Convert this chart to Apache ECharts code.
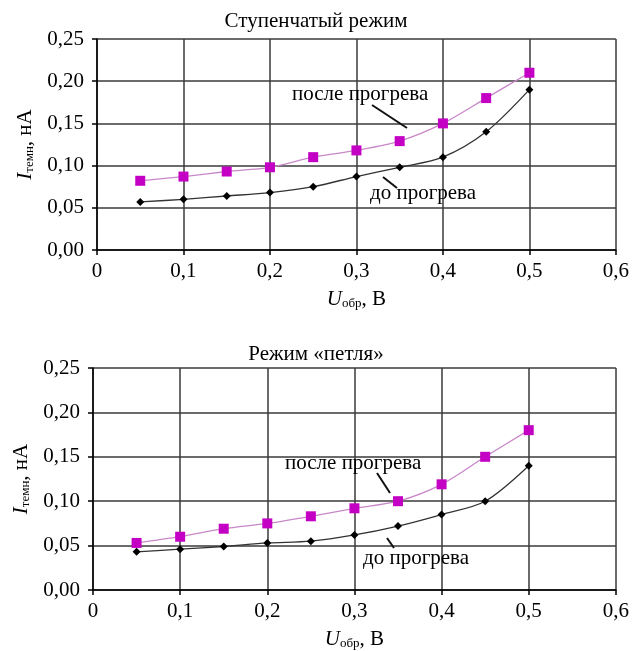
<!DOCTYPE html>
<html>
<head>
<meta charset="utf-8">
<script src="https://cdn.jsdelivr.net/npm/echarts@6/dist/echarts.min.js"></script>
<style>
  html, body { margin: 0; padding: 0; background: #fff; }
  #chart { width: 632px; height: 651px; }
</style>
</head>
<body>
<div id="chart"></div>
<script>
// данные
const voltage = [0.05, 0.1, 0.15, 0.2, 0.25, 0.3, 0.35, 0.4, 0.45, 0.5]
const stepBefore = [0.057, 0.060, 0.064, 0.068, 0.075, 0.087, 0.098, 0.110, 0.140, 0.190]
const stepAfter = [0.082, 0.087, 0.093, 0.098, 0.110, 0.118, 0.129, 0.150, 0.180, 0.210]
const loopBefore = [0.043, 0.046, 0.049, 0.053, 0.055, 0.062, 0.072, 0.085, 0.100, 0.140]
const loopAfter = [0.053, 0.060, 0.069, 0.075, 0.083, 0.092, 0.100, 0.119, 0.150, 0.180]
const titles = ['Ступенчатый режим', 'Режим «петля»']
const labelAfter = 'после прогрева'
const labelBefore = 'до прогрева'

const font = '"Liberation Serif", "DejaVu Serif", serif'
const gridColor = '#3a3a3a'
const magenta = '#c400c4'
const magentaLine = '#c888c8'

const pairs = (ys) => voltage.map((x, i) => [x, ys[i]])

const nameRich = {
  i: { fontFamily: font, fontStyle: 'italic', fontSize: 21, color: '#000' },
  sub: { fontFamily: font, fontSize: 13, color: '#000', verticalAlign: 'bottom', padding: [9, 0, 0, 0] },
  n: { fontFamily: font, fontSize: 21, color: '#000' }
}

const xAxisOf = (gridIndex) => ({
  type: 'value',
  gridIndex,
  min: 0,
  max: 0.6,
  interval: 0.1,
  name: '{i|U}{sub|обр}{n|, В}',
  nameLocation: 'middle',
  nameGap: 38,
  nameTextStyle: { rich: nameRich },
  axisLine: { show: true, onZero: false, lineStyle: { color: '#000', width: 1.5 } },
  axisTick: { show: true, length: 5, lineStyle: { color: '#000', width: 1.5 } },
  axisLabel: {
    fontFamily: font, fontSize: 21, color: '#000', margin: 11,
    formatter: (v) => (v === 0 ? '0' : v.toFixed(1).replace('.', ','))
  },
  splitLine: { show: true, lineStyle: { color: gridColor, width: 1.5 } }
})

const yAxisOf = (gridIndex) => ({
  type: 'value',
  gridIndex,
  min: 0,
  max: 0.25,
  interval: 0.05,
  name: '{i|I}{sub|темн}{n|, нА}',
  nameLocation: 'middle',
  nameRotate: 90,
  nameGap: 56,
  nameTextStyle: { rich: nameRich },
  axisLine: { show: true, onZero: false, lineStyle: { color: '#000', width: 1.5 } },
  axisTick: { show: true, length: 5, lineStyle: { color: '#000', width: 1.5 } },
  axisLabel: {
    fontFamily: font, fontSize: 21, color: '#000', margin: 13,
    formatter: (v) => v.toFixed(2).replace('.', ',')
  },
  splitLine: { show: true, lineStyle: { color: gridColor, width: 1.5 } }
})

const beforeSeries = (idx, ys) => ({
  type: 'line',
  xAxisIndex: idx,
  yAxisIndex: idx,
  smooth: 0.3,
  data: pairs(ys),
  symbol: 'diamond',
  symbolSize: 8,
  itemStyle: { color: '#000' },
  lineStyle: { color: '#333', width: 1.3 },
  z: 3
})

const afterSeries = (idx, ys) => ({
  type: 'line',
  xAxisIndex: idx,
  yAxisIndex: idx,
  smooth: 0.3,
  data: pairs(ys),
  symbol: 'rect',
  symbolSize: 10,
  itemStyle: { color: magenta },
  lineStyle: { color: magentaLine, width: 1.3 },
  z: 4
})

const textEl = (text, x, y) => ({
  type: 'text',
  left: x,
  top: y,
  style: { text, fontFamily: font, fontSize: 21, fill: '#000' },
  z: 10
})
const leader = (x1, y1, x2, y2) => ({
  type: 'line',
  shape: { x1, y1, x2, y2 },
  style: { stroke: '#111', lineWidth: 2 },
  z: 10
})

const chart = echarts.init(document.getElementById('chart'), null, { renderer: 'canvas' })
chart.setOption({
  backgroundColor: '#fff',
  animation: false,
  title: [
    { text: titles[0], left: 'center', top: 6, textStyle: { fontFamily: font, fontSize: 21, fontWeight: 'normal', color: '#000' } },
    { text: titles[1], left: 'center', top: 339, textStyle: { fontFamily: font, fontSize: 21, fontWeight: 'normal', color: '#000' } }
  ],
  grid: [
    { left: 97, top: 39, width: 525, height: 211 },
    { left: 93, top: 368, width: 525, height: 225 }
  ],
  xAxis: [xAxisOf(0), xAxisOf(1)],
  yAxis: [yAxisOf(0), yAxisOf(1)],
  series: [
    beforeSeries(0, stepBefore),
    afterSeries(0, stepAfter),
    beforeSeries(1, loopBefore),
    afterSeries(1, loopAfter)
  ],
  graphic: [
    textEl(labelAfter, 292, 84),
    leader(372, 105, 407, 128),
    textEl(labelBefore, 370, 183),
    leader(383, 177, 397, 188),
    textEl(labelAfter, 285, 453),
    leader(377, 473, 390, 493),
    textEl(labelBefore, 363, 548),
    leader(387, 538, 394, 548)
  ]
})
window.addEventListener('resize', () => chart.resize())
</script>
</body>
</html>
